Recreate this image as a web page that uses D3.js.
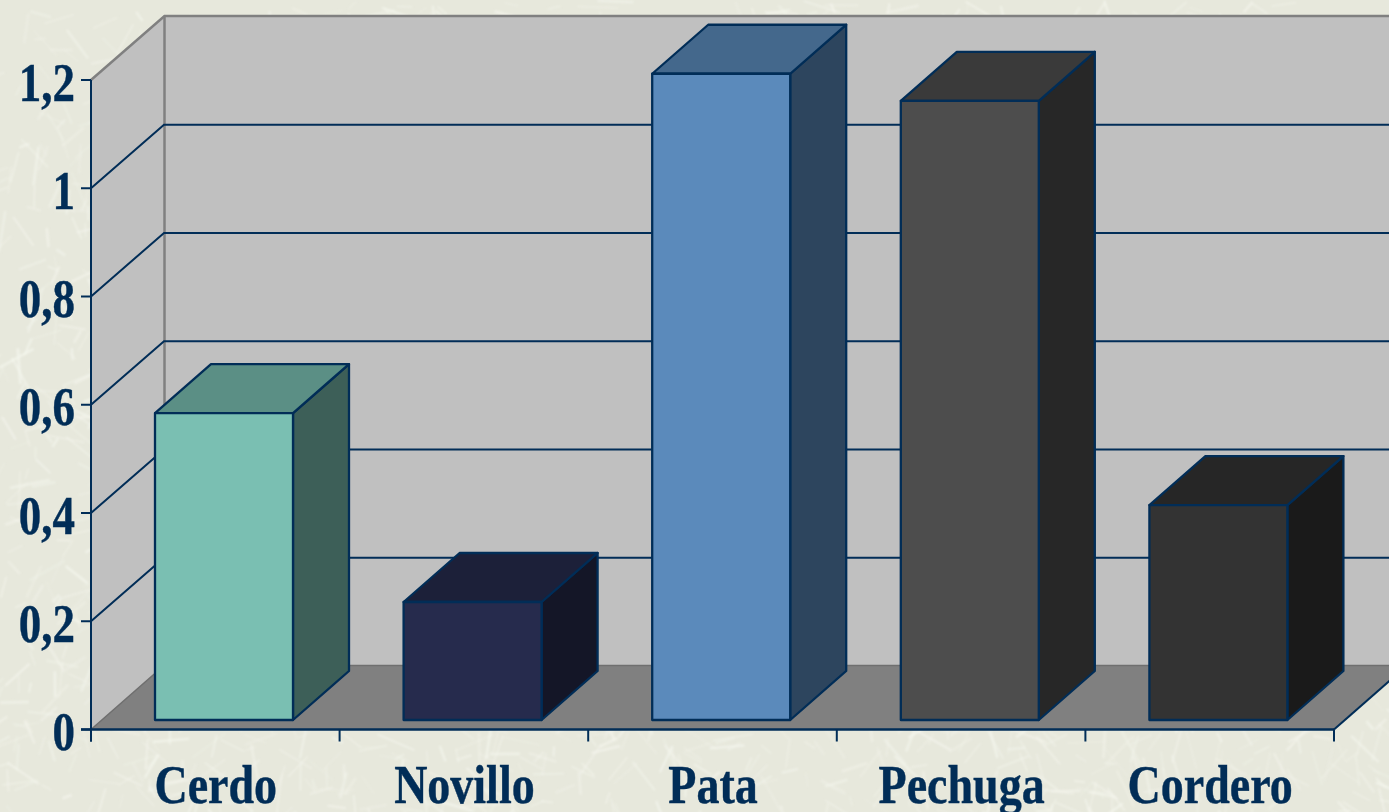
<!DOCTYPE html>
<html><head><meta charset="utf-8">
<style>html,body{margin:0;padding:0;background:#e7e8dc;overflow:hidden}svg{display:block}</style>
<script src="https://cdn.jsdelivr.net/npm/d3@7"></script></head>
<body><svg id="c" width="1389" height="812"></svg>
<script>
const categories=["Cerdo","Novillo","Pata","Pechuga","Cordero"];
const values=[0.567,0.218,1.194,1.144,0.397];
const yTicks=[0,0.2,0.4,0.6,0.8,1,1.2];
const frontColors=["#7abfb2","#262b4d","#5b8abb","#4d4d4d","#333333"];
const topColors=["#5b8f85","#1c2039","#44688c","#3a3a3a","#262626"];
const sideColors=["#3d5f58","#141627","#2d455e","#272727","#1a1a1a"];

const W=1389,H=812,navy="#012d57",wallEdge="#808080";
const svg=d3.select("#c");

// Background paper texture (decorative only)
let seed=12345;const rnd=()=>(seed=(seed*1664525+1013904223)%4294967296)/4294967296;
const defs=svg.append("defs");
const blur=defs.append("filter").attr("id","soft").attr("x","-5%").attr("y","-5%").attr("width","110%").attr("height","110%");
blur.append("feGaussianBlur").attr("stdDeviation",0.8);
svg.append("rect").attr("width",W).attr("height",H).attr("fill","#e7e8dc");
const tex=svg.append("g").attr("filter","url(#soft)").attr("stroke","#f5f6ee").attr("fill","none");
for(let i=0;i<3200;i++){
  const x=rnd()*W,y=rnd()*H,a=rnd()*Math.PI,l=10+rnd()*32;
  tex.append("line").attr("x1",x).attr("y1",y).attr("x2",x+Math.cos(a)*l).attr("y2",y+Math.sin(a)*l)
    .attr("stroke-width",1+rnd()*2).attr("opacity",0.25+rnd()*0.45);
}

const x=d3.scaleBand().domain(categories).range([91,1334]).paddingInner(0).paddingOuter(0);
const y=d3.scaleLinear().domain([0,1.2]).range([729.5,80]);
const dX=73,dY=-64;            // wall depth
const gridShift=0.4;           // gridlines on the back wall sit slightly lower
const bIn=10,bDy=-9.5;         // bar front offset from the front plane
const bDx=56,bDyBack=-49;      // bar depth
const pts=a=>a.map(p=>p.join(",")).join(" ");
const x0=x.range()[0],x1=x.range()[1],y0=y(0),yT=y(1.2);

const chart=svg.append("g");
// Back wall, side wall, floor
chart.append("polygon").attr("points",pts([[x0+dX,yT+dY],[x1+dX,yT+dY],[x1+dX,y0+dY],[x0+dX,y0+dY]])).attr("fill","#c0c0c0");
chart.append("polygon").attr("points",pts([[x0,yT],[x0+dX,yT+dY],[x0+dX,y0+dY],[x0,y0]])).attr("fill","#c0c0c0");
chart.append("polygon").attr("points",pts([[x0,y0],[x0+dX,y0+dY],[x1+dX,y0+dY],[x1,y0]])).attr("fill","#808080");
// Wall outlines
chart.append("polyline").attr("points",pts([[x0,yT],[x0+dX+.5,yT+dY],[x1+dX,yT+dY]])).attr("fill","none").attr("stroke",wallEdge).attr("stroke-width",2.5);
chart.append("line").attr("x1",x0+dX+.5).attr("x2",x0+dX+.5).attr("y1",yT+dY).attr("y2",y0+dY).attr("stroke",wallEdge).attr("stroke-width",2.5);
chart.append("polyline").attr("points",pts([[x0,y0],[x0+dX,y0+dY],[x1+dX,y0+dY]])).attr("fill","none").attr("stroke","#6f6f6f").attr("stroke-width",1.5);
// Gridlines
chart.selectAll("polyline.g").data(yTicks.slice(1,-1)).join("polyline").attr("class","g")
  .attr("points",d=>pts([[x0,y(d)],[x0+dX,y(d)+dY+gridShift],[x1+dX,y(d)+dY+gridShift]]))
  .attr("fill","none").attr("stroke",navy).attr("stroke-width",2);
// Axis lines
chart.append("line").attr("x1",x0).attr("x2",x0).attr("y1",yT).attr("y2",y0+12).attr("stroke",navy).attr("stroke-width",2);
chart.append("line").attr("x1",x0-10).attr("x2",x1).attr("y1",y0).attr("y2",y0).attr("stroke",navy).attr("stroke-width",2.5);
chart.append("line").attr("x1",x1).attr("x2",x1+dX).attr("y1",y0).attr("y2",y0+dY).attr("stroke",navy).attr("stroke-width",2);
chart.selectAll("line.yt").data(yTicks).join("line").attr("class","yt")
  .attr("x1",x0-10).attr("x2",x0).attr("y1",d=>y(d)).attr("y2",d=>y(d)).attr("stroke",navy).attr("stroke-width",2);
chart.selectAll("line.xt").data(categories.map(c=>x(c)+x.bandwidth()).concat([x0])).join("line").attr("class","xt")
  .attr("x1",d=>d).attr("x2",d=>d).attr("y1",y0).attr("y2",y0+12).attr("stroke",navy).attr("stroke-width",2);

// Bars
const barW=138;
const bars=chart.selectAll("g.b").data(categories).join("g").attr("class","b");
const bl=c=>x(c)+bIn+54, bt=i=>y(values[i])+bDy, bb=y0+bDy;
bars.append("polygon").attr("points",(c,i)=>pts([[bl(c)+barW,bt(i)],[bl(c)+barW+bDx,bt(i)+bDyBack],[bl(c)+barW+bDx,bb+bDyBack],[bl(c)+barW,bb]]))
  .attr("fill",(c,i)=>sideColors[i]);
bars.append("polygon").attr("points",(c,i)=>pts([[bl(c),bt(i)],[bl(c)+bDx,bt(i)+bDyBack],[bl(c)+barW+bDx,bt(i)+bDyBack],[bl(c)+barW,bt(i)]]))
  .attr("fill",(c,i)=>topColors[i]);
bars.append("rect").attr("x",bl).attr("y",(c,i)=>bt(i)).attr("width",barW).attr("height",(c,i)=>bb-bt(i))
  .attr("fill",(c,i)=>frontColors[i]);
bars.selectAll("polygon,rect").attr("stroke",navy).attr("stroke-width",2.3).attr("stroke-linejoin","round");

// Labels
const font={"font-family":"'Liberation Serif',serif","font-weight":"bold","font-size":"50px","fill":navy,"stroke":navy,"stroke-width":0.4};
const fmt=d=>String(d).replace(".",",");
const applyFont=s=>{for(const k in font)s.attr(k,font[k]);return s;};
applyFont(chart.selectAll("text.yl").data(yTicks).join("text").attr("class","yl")
  .attr("text-anchor","end").attr("transform",d=>`translate(75,${y(d)+20.5}) scale(0.9,1.1)`).text(fmt));
applyFont(chart.selectAll("text.xl").data(categories).join("text").attr("class","xl")
  .attr("text-anchor","middle").attr("transform",c=>`translate(${x(c)+x.bandwidth()/2+0.5},802.5) scale(0.92,1.1)`).text(c=>c));
</script></body></html>
